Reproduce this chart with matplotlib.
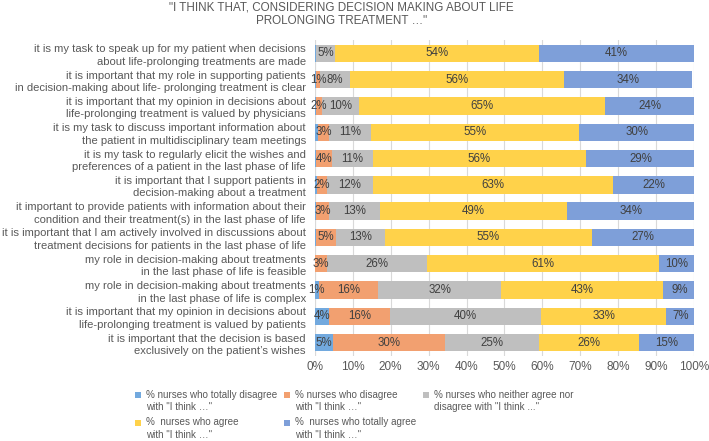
import matplotlib; matplotlib.use("Agg")
import matplotlib.pyplot as plt
import numpy as np

plt.rcParams["font.family"] = ["Liberation Sans", "DejaVu Sans"]

# statements, top to bottom
statements = [
    "it is my task to speak up for my patient when decisions\nabout life-prolonging treatments are made",
    "it is important that my role in supporting patients\nin decision-making about life- prolonging treatment is clear",
    "it is important that my opinion in decisions about\nlife-prolonging treatment is valued by physicians",
    "it is my task to discuss important information about\nthe patient in multidisciplinary team meetings",
    "it is my task to regularly elicit the wishes and\npreferences of a patient in the last phase of life",
    "it is important that I support patients in\ndecision-making about a treatment",
    "it important to provide patients with information about their\ncondition and their treatment(s) in the last phase of life",
    "it is important that I am actively involved in discussions about\ntreatment decisions for patients in the last phase of life",
    "my role in decision-making about treatments\nin the last phase of life is feasible",
    "my role in decision-making about treatments\nin the last phase of life is complex",
    "it is important that my opinion in decisions about\nlife-prolonging treatment is valued by patients",
    "it is important that the decision is based\nexclusively on the patient\u2019s wishes",
]
# shares in % (labels are the rounded values)
totally_disagree = [0.4, 0.4, 0.3, 0.9, 0.3, 0.7, 0.3, 0.3, 0, 1.0, 3.8, 4.8]
disagree = [0, 1.0, 1.7, 2.9, 4.2, 2.4, 3.4, 5.2, 3.1, 15.7, 16.0, 29.6]
neutral = [5.0, 7.9, 9.6, 11.1, 10.8, 12.3, 13.4, 13.0, 26.4, 32.5, 39.8, 24.6]
agree = [53.6, 56.3, 64.9, 54.8, 56.2, 63.3, 49.4, 54.6, 61.2, 42.6, 33.1, 26.4]
totally_agree = [41.0, 33.8, 23.5, 30.3, 28.8, 21.5, 33.5, 27.0, 9.6, 8.9, 7.3, 14.6]

series = [
    ("% nurses who totally disagree\nwith \"I think \u2026\"", totally_disagree, "#72A9DE"),
    ("% nurses who disagree\nwith \"I think \u2026\"", disagree, "#F2A070"),
    ("% nurses who neither agree nor\ndisagree with \"I think ...\"", neutral, "#BFBFBF"),
    ("%  nurses who agree\nwith \"I think \u2026\"", agree, "#FFD24A"),
    ("%  nurses who totally agree\nwith \"I think \u2026\"", totally_agree, "#7E9FD9"),
]

fig = plt.figure(figsize=(7.09, 4.41), dpi=100)
ax = fig.add_axes([0.444, 0.193, 0.535, 0.716])
y = np.arange(len(statements))
left = np.zeros(len(statements))
handles = []
for name, vals, col in series:
    vals = np.array(vals, float)
    b = ax.barh(y, vals, left=left, height=0.66, color=col, label=name, zorder=2)
    handles.append(b)
    for yi, l, v in zip(y, left, vals):
        if v >= 1:
            ax.text(l + v / 2, yi, f"{v:.0f}%", ha="center", va="center",
                    fontsize=8.3, color="#404040", zorder=3)
    left += vals

ax.set_xlim(0, 100)
ax.set_ylim(len(statements) - 0.5, -0.5)
ax.set_yticks(y)
ax.set_yticklabels(statements, fontsize=8.1, color="#595959", linespacing=1.3)
ax.set_xticks(np.arange(0, 101, 10))
ax.set_xticklabels([f"{t}%" for t in range(0, 101, 10)], fontsize=8.5, color="#595959")
ax.tick_params(axis="y", length=0, pad=6.5)
ax.tick_params(axis="x", length=0, pad=4)
ax.grid(axis="x", color="#D9D9D9", linewidth=0.8, zorder=0)
for s in ax.spines.values():
    s.set_visible(False)
ax.axvline(0, color="#D9D9D9", linewidth=0.8, zorder=1)

fig.text(0.482, 0.997, "\"I THINK THAT, CONSIDERING DECISION MAKING ABOUT LIFE\nPROLONGING TREATMENT \u2026\"",
         ha="center", va="top", fontsize=8.4, color="#595959", linespacing=1.2)

order = [0, 3, 1, 4, 2]
leg = fig.legend([handles[i] for i in order], [series[i][0] for i in order],
                 ncol=3, loc="lower left", bbox_to_anchor=(0.178, -0.018), frameon=False,
                 fontsize=7.1, handlelength=0.6, handleheight=0.6, handletextpad=0.5,
                 columnspacing=0.7, labelspacing=0.5, labelcolor="#595959")
for t in leg.get_texts():
    t.set_linespacing(1.35)
# markers sit beside the first line of each entry
for h in leg.legend_handles:
    h.set_y(h.get_y() + 4.5)

fig.savefig("out.png", dpi=100)
